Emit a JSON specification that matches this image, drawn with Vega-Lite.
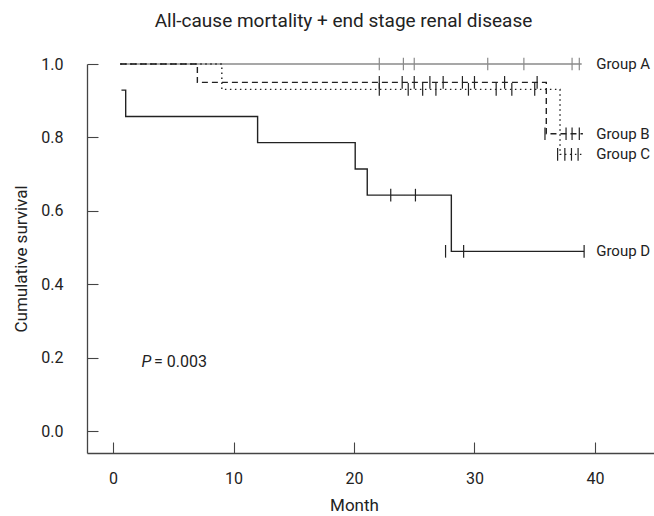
{
  "$schema": "https://vega.github.io/schema/vega-lite/v6.json",
  "autosize": {"type": "none"},
  "width": 567,
  "height": 389,
  "padding": {"left": 87, "top": 64, "right": 0, "bottom": 63},
  "background": "white",
  "config": {
    "view": {"stroke": null},
    "font": "Roboto, Liberation Sans, sans-serif",
    "axis": {"grid": false, "domainColor": "#444", "tickColor": "#444", "domainWidth": 1.3, "tickWidth": 1.1, "labelColor": "#222", "titleColor": "#222", "labelFontSize": 16, "titleFontSize": 17, "titleFontWeight": "normal", "labelFont": "Roboto, Liberation Sans, sans-serif", "titleFont": "Roboto, Liberation Sans, sans-serif"}
  },
  "title": {"text": "All-cause mortality + end stage renal disease", "fontSize": 19, "fontWeight": "normal", "color": "#222", "anchor": "middle", "dx": -27, "offset": 24, "font": "Roboto, Liberation Sans, sans-serif"},
  "datasets": {
    "curves": [
      {"group": "Group A", "month": 0.6, "surv": 1.0},
      {"group": "Group A", "month": 38.9, "surv": 1.0},
      {"group": "Group C", "month": 0.6, "surv": 1.0},
      {"group": "Group C", "month": 9.03, "surv": 0.931},
      {"group": "Group C", "month": 37.1, "surv": 0.754},
      {"group": "Group C", "month": 39.0, "surv": 0.754},
      {"group": "Group B", "month": 0.6, "surv": 1.0},
      {"group": "Group B", "month": 7.0, "surv": 0.95},
      {"group": "Group B", "month": 35.96, "surv": 0.81},
      {"group": "Group B", "month": 39.0, "surv": 0.81},
      {"group": "Group D", "month": 0.7, "surv": 0.929},
      {"group": "Group D", "month": 1.05, "surv": 0.857},
      {"group": "Group D", "month": 12.0, "surv": 0.786},
      {"group": "Group D", "month": 20.1, "surv": 0.714},
      {"group": "Group D", "month": 21.1, "surv": 0.643},
      {"group": "Group D", "month": 28.08, "surv": 0.49},
      {"group": "Group D", "month": 39.1, "surv": 0.49}
    ],
    "censors": [
      {"group": "Group A", "month": 22.1, "surv": 1.0},
      {"group": "Group A", "month": 24.1, "surv": 1.0},
      {"group": "Group A", "month": 25.0, "surv": 1.0},
      {"group": "Group A", "month": 31.1, "surv": 1.0},
      {"group": "Group A", "month": 34.1, "surv": 1.0},
      {"group": "Group A", "month": 38.1, "surv": 1.0},
      {"group": "Group A", "month": 38.7, "surv": 1.0},
      {"group": "Group B", "month": 22.1, "surv": 0.95},
      {"group": "Group B", "month": 24.0, "surv": 0.95},
      {"group": "Group B", "month": 25.0, "surv": 0.95},
      {"group": "Group B", "month": 26.3, "surv": 0.95},
      {"group": "Group B", "month": 27.4, "surv": 0.95},
      {"group": "Group B", "month": 29.0, "surv": 0.95},
      {"group": "Group B", "month": 30.0, "surv": 0.95},
      {"group": "Group B", "month": 32.5, "surv": 0.95},
      {"group": "Group B", "month": 35.2, "surv": 0.95},
      {"group": "Group B", "month": 35.85, "surv": 0.81},
      {"group": "Group B", "month": 37.6, "surv": 0.81},
      {"group": "Group B", "month": 38.1, "surv": 0.81},
      {"group": "Group B", "month": 38.7, "surv": 0.81},
      {"group": "Group C", "month": 22.1, "surv": 0.931},
      {"group": "Group C", "month": 24.5, "surv": 0.931},
      {"group": "Group C", "month": 25.7, "surv": 0.931},
      {"group": "Group C", "month": 26.8, "surv": 0.931},
      {"group": "Group C", "month": 29.5, "surv": 0.931},
      {"group": "Group C", "month": 31.8, "surv": 0.931},
      {"group": "Group C", "month": 33.1, "surv": 0.931},
      {"group": "Group C", "month": 35.0, "surv": 0.931},
      {"group": "Group C", "month": 36.9, "surv": 0.754},
      {"group": "Group C", "month": 37.5, "surv": 0.754},
      {"group": "Group C", "month": 38.05, "surv": 0.754},
      {"group": "Group C", "month": 38.6, "surv": 0.754},
      {"group": "Group D", "month": 23.05, "surv": 0.643},
      {"group": "Group D", "month": 25.1, "surv": 0.643},
      {"group": "Group D", "month": 27.6, "surv": 0.49},
      {"group": "Group D", "month": 29.1, "surv": 0.49},
      {"group": "Group D", "month": 39.1, "surv": 0.49}
    ],
    "labels": [
      {"label": "Group A", "month": 40.1, "surv": 1.0},
      {"label": "Group B", "month": 40.1, "surv": 0.81},
      {"label": "Group C", "month": 40.1, "surv": 0.754},
      {"label": "Group D", "month": 40.1, "surv": 0.49}
    ]
  },
  "encoding": {
    "x": {"field": "month", "type": "quantitative", "scale": {"domain": [-2.16, 44.9], "nice": false, "zero": false},
      "axis": {"title": "Month", "values": [0, 10, 20, 30, 40], "format": "d", "tickSize": -11, "labelPadding": 28, "titlePadding": 11, "titleX": 267}},
    "y": {"field": "surv", "type": "quantitative", "scale": {"domain": [-0.059, 1.0], "nice": false, "zero": false},
      "axis": {"title": "Cumulative survival", "values": [0, 0.2, 0.4, 0.6, 0.8, 1.0], "format": ".1f", "tickSize": -11, "labelPadding": 35, "titlePadding": 10}}
  },
  "layer": [
    {
      "data": {"name": "curves"},
      "mark": {"type": "line", "interpolate": "step-after", "strokeWidth": 1.4},
      "encoding": {
        "color": {"field": "group", "type": "nominal", "scale": {"domain": ["Group A", "Group B", "Group C", "Group D"], "range": ["#8a8a8a", "#222222", "#222222", "#222222"]}, "legend": null},
        "strokeDash": {"field": "group", "type": "nominal", "scale": {"domain": ["Group A", "Group B", "Group C", "Group D"], "range": [[1, 0], [6, 4], [1.5, 3.5], [1, 0]]}, "legend": null}
      }
    },
    {
      "data": {"name": "censors"},
      "mark": {"type": "point", "shape": "M0,-1L0,1", "size": 160, "filled": false, "strokeWidth": 1.2, "opacity": 1},
      "encoding": {
        "color": {"field": "group", "type": "nominal", "scale": {"domain": ["Group A", "Group B", "Group C", "Group D"], "range": ["#8a8a8a", "#222222", "#222222", "#222222"]}, "legend": null}
      }
    },
    {
      "data": {"name": "labels"},
      "mark": {"type": "text", "align": "left", "baseline": "middle", "fontSize": 15, "color": "#222"},
      "encoding": {"text": {"field": "label"}}
    },
    {
      "data": {"values": [{"t": "P", "month": 2.36, "surv": 0.19}]},
      "mark": {"type": "text", "align": "left", "baseline": "middle", "fontSize": 16, "fontStyle": "italic", "color": "#222"},
      "encoding": {"text": {"field": "t"}}
    },
    {
      "data": {"values": [{"t": "= 0.003", "month": 3.4, "surv": 0.19}]},
      "mark": {"type": "text", "align": "left", "baseline": "middle", "fontSize": 16, "color": "#222"},
      "encoding": {"text": {"field": "t"}}
    }
  ]
}
